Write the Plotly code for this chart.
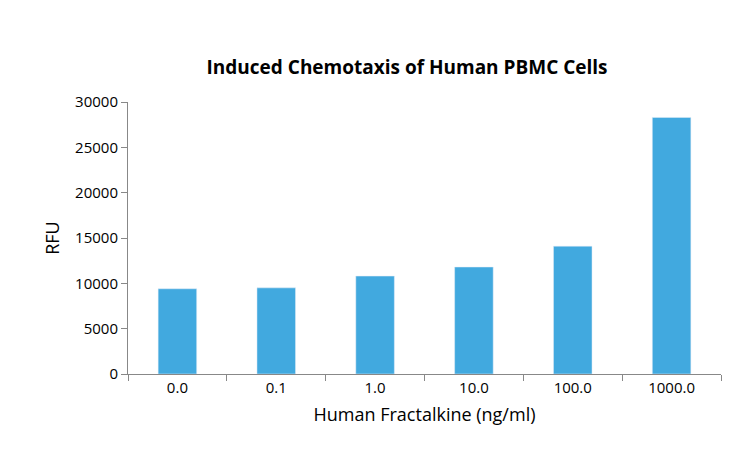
import plotly.graph_objects as go

doses = ["0.0", "0.1", "1.0", "10.0", "100.0", "1000.0"]
rfu = [9400, 9500, 10800, 11800, 14100, 28300]

fig = go.Figure(go.Bar(x=doses, y=rfu, marker_color="#41a9df", width=0.39))

fig.update_layout(
    width=739, height=460,
    paper_bgcolor="white", plot_bgcolor="white",
    font=dict(family="Open Sans, Liberation Sans, sans-serif", size=15, color="black"),
    title=dict(text="<b>Induced Chemotaxis of Human PBMC Cells</b>", x=0.54, xanchor="center",
               y=0.87, yanchor="middle", font=dict(size=19)),
    margin=dict(l=120, r=26, t=94, b=94),
    showlegend=False,
)
fig.update_xaxes(title=dict(text="Human Fractalkine (ng/ml)", standoff=12),
                 showline=True, linecolor="#888", linewidth=1,
                 ticks="outside", tickson="boundaries", ticklen=6, tickcolor="#888")
fig.update_yaxes(title=dict(text="RFU", standoff=10), range=[0, 30000], dtick=5000,
                 tickformat="d",
                 showline=True, linecolor="#888", linewidth=1, showgrid=False,
                 ticks="outside", ticklen=6, tickcolor="#888", zeroline=False)

fig.write_html("out.html")
